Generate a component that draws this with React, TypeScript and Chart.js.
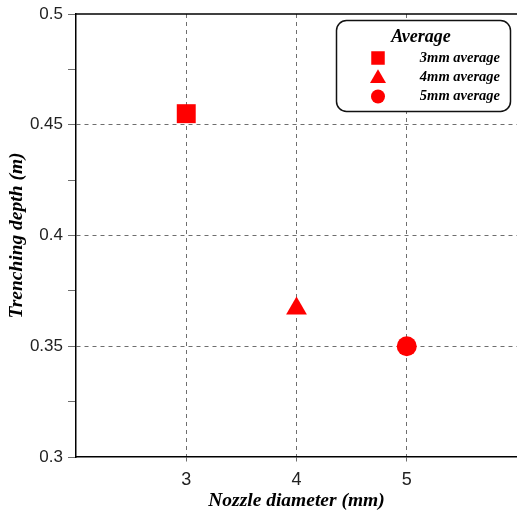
import React, { useEffect, useRef } from "react";
import { Chart, registerables } from "chart.js";

Chart.register(...registerables);

const nozzleDiameters = [3, 4, 5];
const trenchingDepths = [0.455, 0.367, 0.35];
const seriesLabels = ["3mm average", "4mm average", "5mm average"];
const pointStyles = ["rect", "triangle", "circle"];
const pointRadii = [13.4, 12, 10];
const xTickValues = [3, 4, 5];
const legendTitle = "Average";
const xTitle = "Nozzle diameter (mm)";
const yTitle = "Trenching depth (m)";

const RED = "#ff0000";
const GRID = "#6e6e6e";
const SERIF = "'Liberation Serif', 'Times New Roman', serif";
const SANS = "'Liberation Sans', Arial, sans-serif";

function drawMarker(ctx: CanvasRenderingContext2D, style: string, x: number, y: number, s: number) {
  ctx.beginPath();
  if (style === "rect") {
    ctx.rect(x - s / 2, y - s / 2, s, s);
  } else if (style === "triangle") {
    const h = s * 0.866;
    ctx.moveTo(x, y - h * 0.6);
    ctx.lineTo(x + s / 2, y + h * 0.4);
    ctx.lineTo(x - s / 2, y + h * 0.4);
    ctx.closePath();
  } else {
    ctx.arc(x, y, s / 2, 0, Math.PI * 2);
  }
  ctx.fill();
}

const framePlugin = {
  id: "frameLegend",
  afterDraw(chart: any) {
    const ctx: CanvasRenderingContext2D = chart.ctx;
    const { left, right, top } = chart.chartArea;
    ctx.save();
    ctx.strokeStyle = "#000";
    ctx.lineWidth = 1.5;
    ctx.beginPath();
    ctx.moveTo(left, top);
    ctx.lineTo(right + 2, top);
    ctx.stroke();

    // legend box
    const bx = 336.5, by = 20.5, bw = 174, bh = 91, r = 10;
    ctx.beginPath();
    ctx.moveTo(bx + r, by);
    ctx.lineTo(bx + bw - r, by);
    ctx.arcTo(bx + bw, by, bx + bw, by + r, r);
    ctx.lineTo(bx + bw, by + bh - r);
    ctx.arcTo(bx + bw, by + bh, bx + bw - r, by + bh, r);
    ctx.lineTo(bx + r, by + bh);
    ctx.arcTo(bx, by + bh, bx, by + bh - r, r);
    ctx.lineTo(bx, by + r);
    ctx.arcTo(bx, by, bx + r, by, r);
    ctx.closePath();
    ctx.fillStyle = "#fff";
    ctx.fill();
    ctx.strokeStyle = "#111";
    ctx.lineWidth = 1.5;
    ctx.stroke();

    ctx.fillStyle = "#000";
    ctx.font = `italic bold 18px ${SERIF}`;
    ctx.textAlign = "center";
    ctx.textBaseline = "middle";
    ctx.fillText(legendTitle, 421, 37);

    const rows = [58, 77.5, 96.5];
    chart.data.datasets.forEach((ds: any, i: number) => {
      ctx.fillStyle = RED;
      const st = ds.pointStyle as string;
      drawMarker(ctx, st, 378, rows[i], st === "triangle" ? 16 : st === "rect" ? 13.5 : 14);
      ctx.fillStyle = "#000";
      ctx.font = `italic bold 14.5px ${SERIF}`;
      ctx.textAlign = "right";
      ctx.fillText(ds.label, 500, rows[i]);
    });
    ctx.restore();
  },
};

export default function App() {
  const ref = useRef<HTMLCanvasElement | null>(null);
  useEffect(() => {
    if (!ref.current) return;
    const datasets = seriesLabels.map((label, i) => ({
      label,
      data: [{ x: nozzleDiameters[i], y: trenchingDepths[i] }],
      pointStyle: pointStyles[i] as any,
      pointRadius: pointRadii[i],
      pointHoverRadius: pointRadii[i],
      backgroundColor: RED,
      borderColor: RED,
      borderWidth: 0,
    }));
    const chart = new Chart(ref.current, {
      type: "scatter",
      data: { datasets },
      options: {
        animation: false,
        responsive: false,
        maintainAspectRatio: false,
        layout: { autoPadding: false, padding: { top: 14, right: 0, left: 0, bottom: 0 } } as any,
        plugins: { legend: { display: false }, tooltip: { enabled: false } },
        scales: {
          x: {
            type: "linear",
            min: 2,
            max: 6,
            afterBuildTicks: (axis: any) => {
              axis.ticks = xTickValues.map((v) => ({ value: v }));
            },
            afterFit: (axis: any) => {
              axis.height = 54;
              axis.paddingLeft = 0;
              axis.paddingRight = 0;
            },
            border: { color: "#000", width: 1.5, dash: [4, 4] } as any,
            grid: {
              color: GRID,
              lineWidth: 1,
              tickLength: 8,
              tickColor: GRID,
              tickBorderDash: [4, 4],
            } as any,
            ticks: {
              color: "#222",
              font: { family: SANS, size: 18 },
              padding: 4,
            },
            title: {
              display: true,
              text: xTitle,
              color: "#000",
              font: { family: SERIF, size: 19.5, style: "italic", weight: "bold" },
              padding: { top: 0, bottom: -2 },
            },
          },
          y: {
            type: "linear",
            min: 0.3,
            max: 0.5,
            afterFit: (axis: any) => {
              axis.width = 76;
              axis.paddingTop = 0;
              axis.paddingBottom = 0;
            },
            border: { color: "#000", width: 1.5, dash: [4, 4] } as any,
            grid: {
              color: (c: any) => {
                const v = Math.round(c.tick.value * 1000);
                if (v === 500 || v === 300) return "rgba(0,0,0,0)";
                return v % 50 === 0 ? GRID : "rgba(0,0,0,0)";
              },
              lineWidth: 1,
              tickLength: 8,
              tickColor: GRID,
              tickBorderDash: [],
            } as any,
            ticks: {
              stepSize: 0.025,
              color: "#222",
              font: { family: SANS, size: 17 },
              padding: 5,
              autoSkip: false,
              callback: (v: any) => {
                const n = Math.round(Number(v) * 1000);
                return n % 50 === 0 ? String(n / 1000) : "";
              },
            },
            title: {
              display: true,
              text: yTitle,
              color: "#000",
              font: { family: SERIF, size: 19.5, style: "italic", weight: "bold" },
              padding: { top: 5, bottom: 0 },
            },
          },
        },
      },
      plugins: [framePlugin],
    });
    return () => chart.destroy();
  }, []);
  return (
    <div style={{ position: "fixed", left: 0, top: 0, width: 517, height: 511, background: "#fff" }}>
      <canvas ref={ref} width={517} height={511} />
    </div>
  );
}
